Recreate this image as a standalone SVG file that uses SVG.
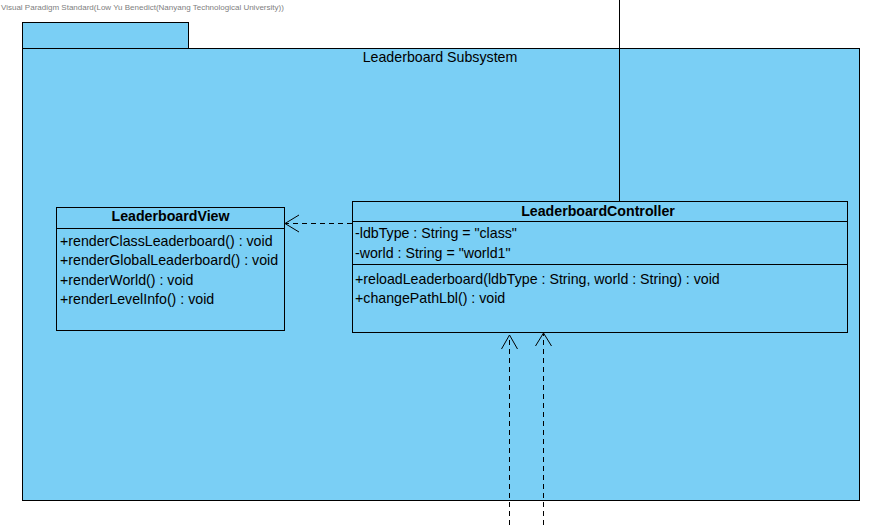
<svg xmlns="http://www.w3.org/2000/svg" width="883" height="525" viewBox="0 0 883 525">
<style>
.pk{fill:#7acff5;stroke:#000;stroke-width:1}
.cls{fill:#7acff5;stroke:#000;stroke-width:1}
.t{font-family:"Liberation Sans",Arial,sans-serif;font-size:14.2px;fill:#000}
.b{font-weight:bold;text-anchor:middle}
.dash{fill:none;stroke:#000;stroke-width:1;stroke-dasharray:5,4}
.solid{fill:none;stroke:#000;stroke-width:1}
</style>
<rect width="883" height="525" fill="#fff"/>
<text x="1" y="10" style="font-family:'Liberation Sans',Arial,sans-serif;font-size:8px;fill:#808080">Visual Paradigm Standard(Low Yu Benedict(Nanyang Technological University))</text>
<g id="package">
<rect class="pk" x="22.5" y="22.5" width="166" height="26"/>
<rect class="pk" x="22.5" y="48.5" width="837" height="452"/>
<text class="t" x="440" y="62" text-anchor="middle">Leaderboard Subsystem</text>
</g>
<g id="connectors">
<line class="solid" x1="619.5" y1="0" x2="619.5" y2="201"/>
<line class="dash" x1="352" y1="223.5" x2="286" y2="223.5"/>
<polyline class="solid" points="299,215 285,223.5 299,232"/>
<line class="dash" x1="509.5" y1="525" x2="509.5" y2="336"/>
<polyline class="solid" points="501.5,349 509.5,335 517.5,349"/>
<line class="dash" x1="543.5" y1="525" x2="543.5" y2="334"/>
<polyline class="solid" points="535.5,346 543.5,333 551.5,346"/>
</g>
<g id="LeaderboardView">
<rect class="cls" x="56.5" y="207.5" width="228" height="123"/>
<line class="solid" x1="56.5" y1="228.5" x2="284.5" y2="228.5"/>
<text class="t b" x="170.5" y="221">LeaderboardView</text>
<text class="t" x="60" y="245.5">+renderClassLeaderboard() : void</text>
<text class="t" x="60" y="265">+renderGlobalLeaderboard() : void</text>
<text class="t" x="60" y="284.5">+renderWorld() : void</text>
<text class="t" x="60" y="304">+renderLevelInfo() : void</text>
</g>
<g id="LeaderboardController">
<rect class="cls" x="352.5" y="201.5" width="495" height="131"/>
<line class="solid" x1="352.5" y1="221.5" x2="847.5" y2="221.5"/>
<line class="solid" x1="352.5" y1="264.5" x2="847.5" y2="264.5"/>
<text class="t b" x="598" y="215.5">LeaderboardController</text>
<text class="t" x="355" y="238">-ldbType : String = "class"</text>
<text class="t" x="355" y="257.5">-world : String = "world1"</text>
<text class="t" x="355" y="283.5">+reloadLeaderboard(ldbType : String, world : String) : void</text>
<text class="t" x="355" y="302.5">+changePathLbl() : void</text>
</g>
</svg>
